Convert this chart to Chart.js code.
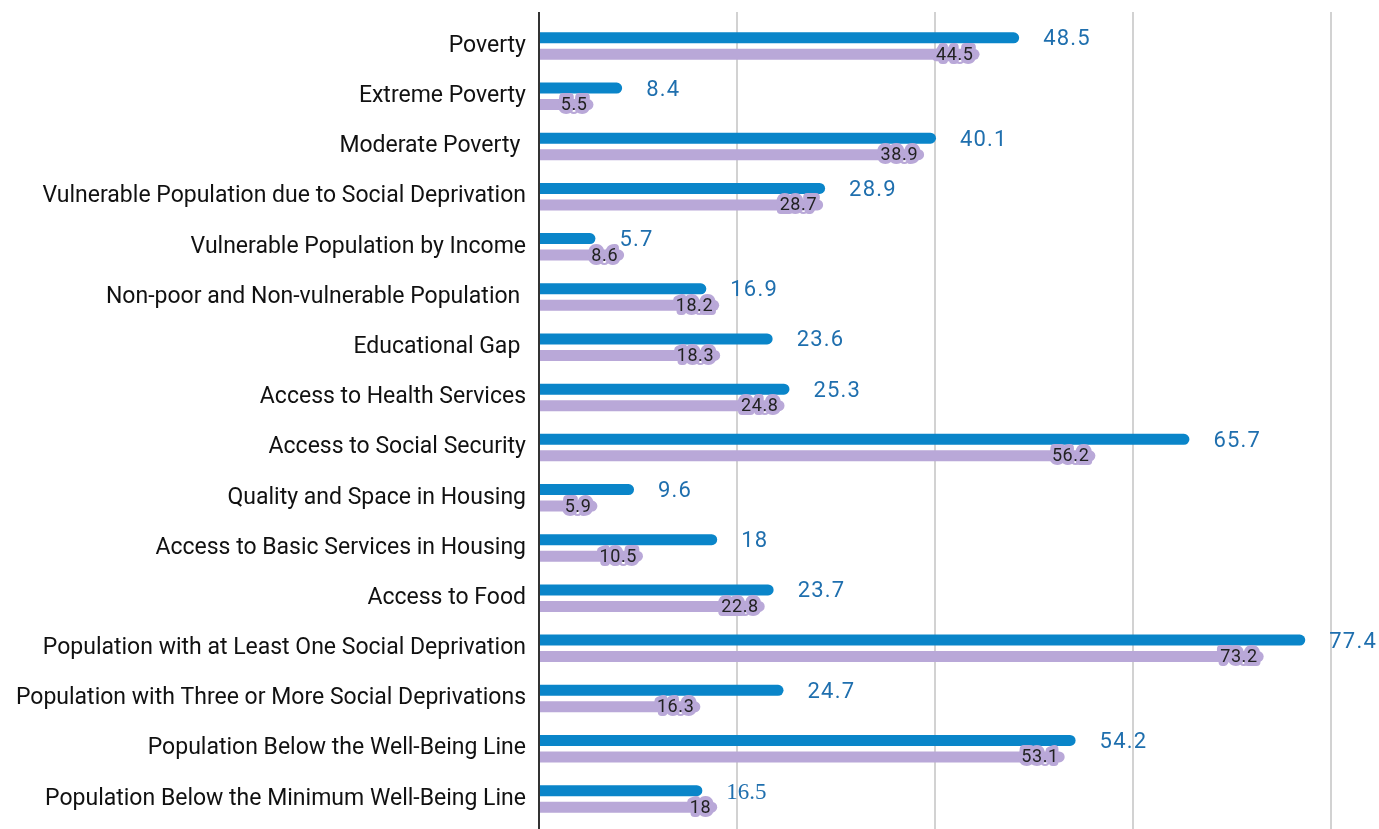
<!DOCTYPE html>
<html>
<head>
<meta charset="utf-8">
<script src="https://cdn.jsdelivr.net/npm/chart.js@4/dist/chart.umd.min.js"></script>
<style>
  html, body { margin: 0; padding: 0; background: #ffffff; }
  #wrap { width: 1379px; height: 829px; }
</style>
</head>
<body>
<div id="wrap"><canvas id="c" width="1379" height="829"></canvas></div>
<script>
const categories = [
  "Poverty",
  "Extreme Poverty",
  "Moderate Poverty ",
  "Vulnerable Population due to Social Deprivation",
  "Vulnerable Population by Income",
  "Non-poor and Non-vulnerable Population ",
  "Educational Gap ",
  "Access to Health Services",
  "Access to Social Security",
  "Quality and Space in Housing",
  "Access to Basic Services in Housing",
  "Access to Food",
  "Population with at Least One Social Deprivation",
  "Population with Three or More Social Deprivations",
  "Population Below the Well-Being Line",
  "Population Below the Minimum Well-Being Line"
];
const seriesBlue = [48.5, 8.4, 40.1, 28.9, 5.7, 16.9, 23.6, 25.3, 65.7, 9.6, 18, 23.7, 77.4, 24.7, 54.2, 16.5];
const seriesPurple = [44.5, 5.5, 38.9, 28.7, 8.6, 18.2, 18.3, 24.8, 56.2, 5.9, 10.5, 22.8, 73.2, 16.3, 53.1, 18];
const xTicks = [0, 20, 40, 60, 80];

const BLUE = '#0a85c9';
const PURPLE = '#b9a8d8';
const BLUE_TEXT = '#1f6fae';
const blueLabelFontOverride = { 15: '23px "Liberation Serif"' };

const gridPlugin = {
  id: 'gridPlugin',
  beforeDatasetsDraw(chart) {
    const ctx = chart.ctx, x = chart.scales.x;
    ctx.save();
    ctx.strokeStyle = '#d2d2d2';
    ctx.lineWidth = 2;
    xTicks.forEach(v => {
      if (v === 0) return;
      const px = Math.round(x.getPixelForValue(v));
      ctx.beginPath();
      ctx.moveTo(px, 12);
      ctx.lineTo(px, chart.height);
      ctx.stroke();
    });
    ctx.restore();
  },
  afterDatasetsDraw(chart) {
    const ctx = chart.ctx, x = chart.scales.x;
    ctx.save();
    const px0 = Math.round(x.getPixelForValue(0));
    ctx.strokeStyle = '#333333';
    ctx.lineWidth = 2;
    ctx.beginPath();
    ctx.moveTo(px0, 12);
    ctx.lineTo(px0, chart.height);
    ctx.stroke();

    // blue labels
    const m0 = chart.getDatasetMeta(0);
    ctx.textBaseline = 'middle';
    ctx.textAlign = 'left';
    ctx.fillStyle = BLUE_TEXT;
    m0.data.forEach((bar, i) => {
      ctx.font = blueLabelFontOverride[i] || '22px Roboto';
      ctx.letterSpacing = blueLabelFontOverride[i] ? '0px' : '1.2px';
      ctx.fillText(String(seriesBlue[i]), bar.x + 24, bar.y + 2);
    });

    // purple labels with halo
    const m1 = chart.getDatasetMeta(1);
    ctx.font = '18px Roboto';
    ctx.letterSpacing = '0.6px';
    ctx.textAlign = 'right';
    ctx.lineJoin = 'round';
    m1.data.forEach((bar, i) => {
      const tx = bar.x - 6, ty = bar.y + 1;
      ctx.strokeStyle = PURPLE;
      ctx.lineWidth = 8;
      ctx.strokeText(String(seriesPurple[i]), tx, ty);
      ctx.fillStyle = '#222222';
      ctx.fillText(String(seriesPurple[i]), tx, ty);
    });
    ctx.restore();
  }
};

new Chart(document.getElementById('c'), {
  type: 'bar',
  data: {
    labels: categories,
    datasets: [
      { label: 'Series 1', data: seriesBlue, backgroundColor: BLUE, borderRadius: 6, borderSkipped: 'start',
        categoryPercentage: 0.657, barPercentage: 0.667 },
      { label: 'Series 2', data: seriesPurple, backgroundColor: PURPLE, borderRadius: 6, borderSkipped: 'start',
        categoryPercentage: 0.657, barPercentage: 0.667 }
    ]
  },
  options: {
    indexAxis: 'y',
    responsive: false,
    animation: false,
    maintainAspectRatio: false,
    layout: { padding: { top: 21, right: 48, bottom: 5, left: 0 } },
    plugins: { legend: { display: false }, tooltip: { enabled: false } },
    scales: {
      x: {
        display: false,
        min: 0, max: 80,
        afterBuildTicks: s => { s.ticks = xTicks.map(v => ({ value: v })); }
      },
      y: {
        afterFit: s => { s.width = 539; s.paddingTop = 0; s.paddingBottom = 0; },
        ticks: { color: '#111111', font: { family: 'Roboto', size: 23 }, padding: 13 },
        grid: { display: false, drawTicks: false },
        border: { display: false }
      }
    }
  },
  plugins: [gridPlugin]
});
</script>
</body>
</html>
